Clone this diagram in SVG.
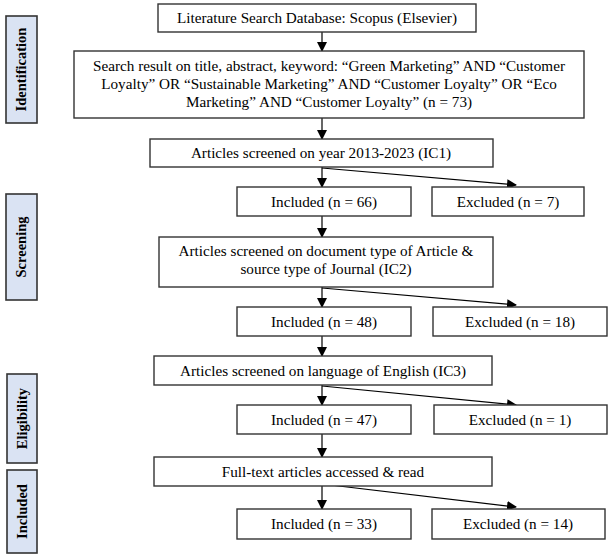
<svg xmlns="http://www.w3.org/2000/svg" width="615" height="556" viewBox="0 0 615 556">
<defs>
<style>
.box{fill:#fff;stroke:#333;stroke-width:1.4}
.side{fill:#dae3f3;stroke:#333;stroke-width:1.6}
.t{font-family:"Liberation Serif","Times New Roman",serif;font-size:15.2px;fill:#000;text-anchor:middle}
.s{font-family:"Liberation Serif","Times New Roman",serif;font-size:14.5px;font-weight:bold;fill:#000;text-anchor:middle}
.c{stroke:#000;stroke-width:1.2;fill:none;marker-end:url(#ah)}
</style>
<marker id="ah" markerWidth="10" markerHeight="10" refX="9" refY="5" orient="auto" markerUnits="userSpaceOnUse">
<path d="M0,0 L10,5 L0,10 z" fill="#000"/>
</marker>
</defs>
<rect width="615" height="556" fill="#fff"/>
<g id="side-identification"><rect class="side" x="6" y="16" width="31" height="107"/><text class="s" transform="translate(26,69.5) rotate(-90)">Identification</text></g>
<g id="side-screening"><rect class="side" x="6" y="194" width="31" height="106"/><text class="s" transform="translate(26,247) rotate(-90)">Screening</text></g>
<g id="side-eligibility"><rect class="side" x="7" y="374" width="30" height="89"/><text class="s" transform="translate(27,418.5) rotate(-90)">Eligibility</text></g>
<g id="side-included"><rect class="side" x="7" y="470" width="30" height="83"/><text class="s" transform="translate(27,511.5) rotate(-90)">Included</text></g>
<g id="connectors">
<line class="c" x1="322" y1="32" x2="322" y2="51"/>
<line class="c" x1="322" y1="118" x2="322" y2="139"/>
<line class="c" x1="322" y1="167" x2="322" y2="187"/>
<line class="c" x1="322" y1="168" x2="516" y2="185"/>
<line class="c" x1="322" y1="216" x2="322" y2="237"/>
<line class="c" x1="322" y1="287" x2="322" y2="307"/>
<line class="c" x1="322" y1="288" x2="516" y2="305"/>
<line class="c" x1="322" y1="336" x2="322" y2="356"/>
<line class="c" x1="322" y1="385" x2="322" y2="405"/>
<line class="c" x1="322" y1="386" x2="516" y2="405"/>
<line class="c" x1="322" y1="434" x2="322" y2="457"/>
<line class="c" x1="322" y1="486" x2="322" y2="509"/>
<line class="c" x1="322" y1="484" x2="516" y2="507"/>
</g>
<g id="n1"><rect class="box" x="158" y="4" width="318" height="28"/><text class="t" x="317" y="23">Literature Search Database: Scopus (Elsevier)</text></g>
<g id="n2"><rect class="box" x="74" y="51" width="510" height="67"/>
<text class="t" x="329" y="71">Search result on title, abstract, keyword: “Green Marketing” AND “Customer</text>
<text class="t" x="329" y="89">Loyalty” OR “Sustainable Marketing” AND “Customer Loyalty” OR “Eco</text>
<text class="t" x="329" y="107">Marketing” AND “Customer Loyalty” (n = 73)</text></g>
<g id="n3"><rect class="box" x="150" y="139" width="343" height="28"/><text class="t" x="321" y="158">Articles screened on year 2013-2023 (IC1)</text></g>
<g id="n4"><rect class="box" x="237" y="187" width="174" height="29"/><text class="t" x="324" y="207">Included (n = 66)</text></g>
<g id="n5"><rect class="box" x="432" y="187" width="152" height="29"/><text class="t" x="508" y="207">Excluded (n = 7)</text></g>
<g id="n6"><rect class="box" x="159" y="237" width="334" height="50"/>
<text class="t" x="326" y="256">Articles screened on document type of Article &amp;</text>
<text class="t" x="326" y="274">source type of Journal (IC2)</text></g>
<g id="n7"><rect class="box" x="237" y="307" width="174" height="29"/><text class="t" x="324" y="327">Included (n = 48)</text></g>
<g id="n8"><rect class="box" x="433" y="307" width="174" height="29"/><text class="t" x="520" y="327">Excluded (n = 18)</text></g>
<g id="n9"><rect class="box" x="154" y="356" width="338" height="29"/><text class="t" x="323" y="376">Articles screened on language of English (IC3)</text></g>
<g id="n10"><rect class="box" x="237" y="405" width="174" height="29"/><text class="t" x="324" y="425">Included (n = 47)</text></g>
<g id="n11"><rect class="box" x="434" y="405" width="173" height="29"/><text class="t" x="520" y="425">Excluded (n = 1)</text></g>
<g id="n12"><rect class="box" x="154" y="457" width="338" height="29"/><text class="t" x="323" y="477">Full-text articles accessed &amp; read</text></g>
<g id="n13"><rect class="box" x="237" y="509" width="174" height="30"/><text class="t" x="324" y="529">Included (n = 33)</text></g>
<g id="n14"><rect class="box" x="432" y="509" width="173" height="30"/><text class="t" x="518" y="529">Excluded (n = 14)</text></g>
</svg>
